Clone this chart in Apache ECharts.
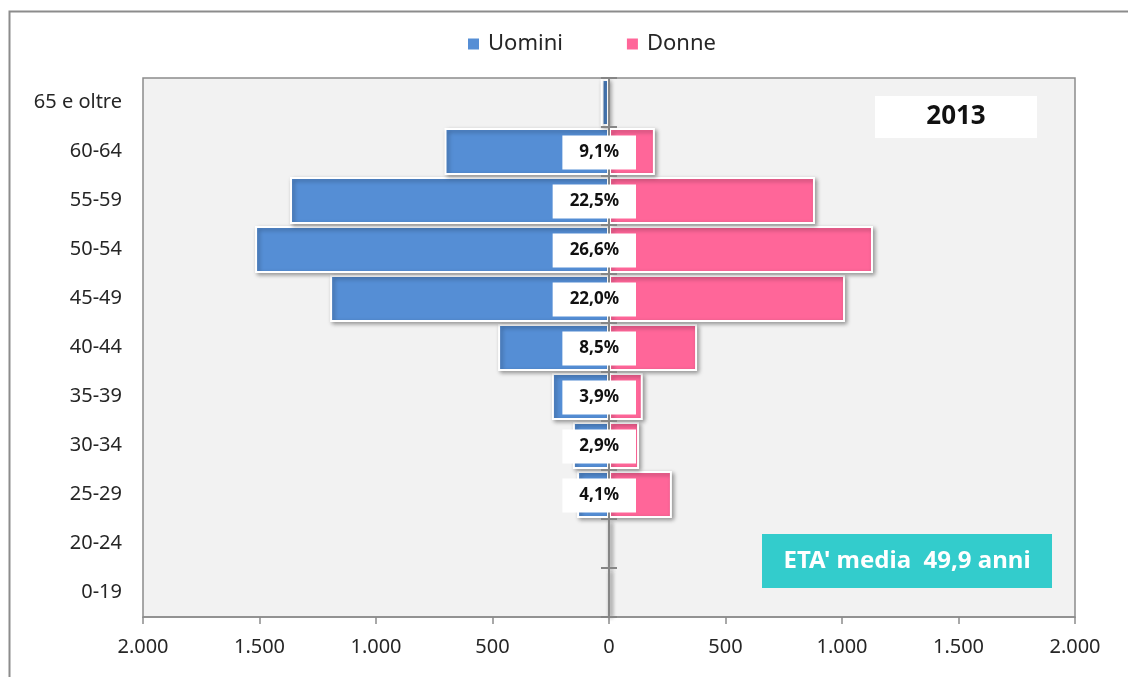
<!DOCTYPE html>
<html>
<head>
<meta charset="utf-8">
<script src="https://cdn.jsdelivr.net/npm/echarts@6/dist/echarts.min.js"></script>
<style>
  html, body { margin: 0; padding: 0; background: #fff; }
  #chart { width: 1128px; height: 677px; }
</style>
</head>
<body>
<div id="chart"></div>
<script>
// fasce d'età, dal basso verso l'alto
const ageGroups = ['0-19', '20-24', '25-29', '30-34', '35-39', '40-44', '45-49', '50-54', '55-59', '60-64', '65 e oltre'];
const uomini = [0, 0, 137, 155, 245, 476, 1197, 1519, 1369, 706, 32];
const donne = [0, 0, 270, 129, 145, 378, 1013, 1133, 884, 197, 0];
const percentuali = [null, null, '4,1%', '2,9%', '3,9%', '8,5%', '22,0%', '26,6%', '22,5%', '9,1%', null];
const xTicks = { min: -2000, max: 2000, step: 500 };

const FONT = 'Noto Sans';
const chart = echarts.init(document.getElementById('chart'));

function fmtNum(v) {
  return Math.abs(v).toString().replace(/\B(?=(\d{3})+(?!\d))/g, '.');
}

const barStyle = {
  borderColor: '#ffffff',
  borderWidth: 2,
  shadowColor: 'rgba(0,0,0,0.35)',
  shadowBlur: 4,
  shadowOffsetX: 2,
  shadowOffsetY: 2
};

const option = {
  animation: false,
  textStyle: { fontFamily: FONT },
  legend: {
    top: 28,
    left: 461,
    icon: 'rect',
    itemWidth: 13,
    itemHeight: 13,
    itemGap: 62,
    textStyle: { fontFamily: FONT, fontSize: 22, color: '#262626', padding: [0, 0, 0, 3] },
    data: ['Uomini', 'Donne']
  },
  grid: {
    left: 143, top: 78, right: 53, bottom: 60,
    show: true,
    backgroundColor: '#f2f2f2',
    borderColor: '#8c8c8c',
    borderWidth: 1.5
  },
  xAxis: {
    type: 'value',
    min: xTicks.min, max: xTicks.max, interval: xTicks.step,
    axisLine: { show: true, onZero: false, lineStyle: { color: '#8c8c8c', width: 1.5 } },
    axisTick: { show: true, length: 7, lineStyle: { color: '#8c8c8c', width: 1.5 } },
    splitLine: { show: false },
    axisLabel: { formatter: fmtNum, fontFamily: FONT, fontSize: 20, color: '#262626', margin: 20 }
  },
  yAxis: [
    {
      type: 'category', data: ageGroups,
      axisLine: { show: false, onZero: false }, axisTick: { show: false },
      axisLabel: { fontFamily: FONT, fontSize: 20, color: '#262626', margin: 21 }
    },
    {
      type: 'category', data: ageGroups, position: 'left', z: 5,
      axisLine: { show: true, onZero: true, onZeroAxisIndex: 0, lineStyle: { color: '#868686', width: 2 } },
      axisTick: { show: true, inside: false, length: 8, lineStyle: { color: '#868686', width: 2 } },
      axisLabel: { show: false }
    },
    {
      type: 'category', data: ageGroups, position: 'left', z: 5,
      axisLine: { show: false, onZero: true, onZeroAxisIndex: 0 },
      axisTick: { show: true, inside: true, length: 8, lineStyle: { color: '#868686', width: 2 } },
      axisLabel: { show: false }
    }
  ],
  series: [
    {
      name: 'Uomini', type: 'bar', stack: 'pop',
      barCategoryGap: '4%',
      itemStyle: Object.assign({ color: '#558ed5' }, barStyle),
      data: uomini.map(v => -v)
    },
    {
      name: 'Donne', type: 'bar', stack: 'pop',
      barCategoryGap: '4%',
      itemStyle: Object.assign({ color: '#ff6699' }, barStyle),
      data: donne
    },
    {
      name: 'perc', type: 'scatter', z: 10,
      symbolSize: 0, silent: true,
      itemStyle: { opacity: 1 },
      data: percentuali.map((p, i) => p ? { value: [0, i], p: p } : null).filter(Boolean),
      label: {
        show: true,
        position: 'inside',
        align: 'right',
        offset: [27, 1],
        formatter: params => params.data.p,
        fontFamily: FONT, fontSize: 17, fontWeight: 'bold', color: '#111',
        backgroundColor: '#ffffff',
        padding: [9, 17, 9, 17],
        lineHeight: 16
      }
    }
  ],
  graphic: [
    {
      type: 'rect', silent: true, z: -10,
      shape: { x: 9.5, y: 11.5, width: 1140, height: 700 },
      style: { fill: null, stroke: '#8c8c8c', lineWidth: 2 }
    },
    {
      type: 'group', left: 875, top: 96, z: 100,
      children: [
        { type: 'rect', shape: { x: 0, y: 0, width: 162, height: 42 }, style: { fill: '#ffffff' } },
        { type: 'text', x: 81, y: 21, style: { text: '2013', fontFamily: FONT, fontSize: 26, fontWeight: 'bold', fill: '#111', align: 'center', verticalAlign: 'middle' } }
      ]
    },
    {
      type: 'group', left: 762, top: 534, z: 100,
      children: [
        { type: 'rect', shape: { x: 0, y: 0, width: 290, height: 54 }, style: { fill: '#33cccc' } },
        { type: 'text', x: 145, y: 27, style: { text: "ETA' media  49,9 anni", fontFamily: FONT, fontSize: 24, fontWeight: 'bold', fill: '#ffffff', align: 'center', verticalAlign: 'middle' } }
      ]
    }
  ]
};

chart.setOption(option);
</script>
</body>
</html>
